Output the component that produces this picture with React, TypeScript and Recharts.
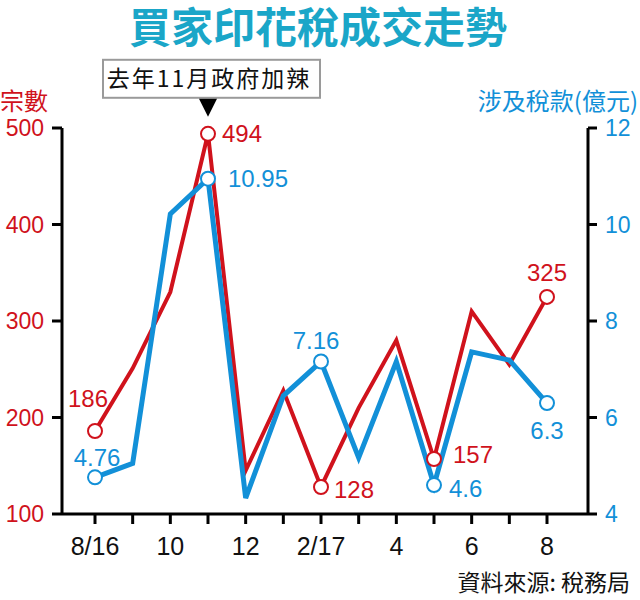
import React from 'react';
import { LineChart, Line, XAxis, YAxis, ReferenceDot, LabelList } from 'recharts';

const months = ['8/16', '9', '10', '11', '12', '1', '2/17', '3', '4', '5', '6', '7', '8'];
const deals = [186, 251, 330, 494, 145, 228, 128, 210, 280, 157, 310, 255, 325];
const taxes = [4.76, 5.05, 10.22, 10.95, 4.33, 6.45, 7.16, 5.17, 7.16, 4.6, 7.36, 7.19, 6.3];
const dealTicks = [100, 200, 300, 400, 500];
const taxTicks = [4, 6, 8, 10, 12];
const labelled = [0, 3, 6, 9, 12];

const RED = '#d0121c';
const BLUE = '#1290d8';
const TITLE = '#1aa6c8';
const CJK = '"Noto Sans CJK TC", "Noto Sans CJK SC", sans-serif';
const LATIN = '"Liberation Sans", Arial, sans-serif';

const data = months.map((m, i) => ({ month: m, deals: deals[i], taxes: taxes[i] }));

// where each value label sits relative to its point
const redPos: Record<number, [string, number, number]> = {
  0: ['middle', -7, -24],
  3: ['start', 14, 8],
  6: ['start', 13, 11],
  9: ['start', 19, 4],
  12: ['middle', 0, -16],
};
const bluePos: Record<number, [string, number, number]> = {
  0: ['middle', 2, -11],
  3: ['start', 20, 8],
  6: ['middle', -5, -13],
  9: ['start', 15, 12],
  12: ['middle', 0, 36],
};

const makeDot = (color: string) => (props: any) => {
  const { cx, cy, index } = props;
  if (!labelled.includes(index)) return <g key={`d${index}`} />;
  return <circle key={`d${index}`} cx={cx} cy={cy} r={7} fill="#fff" stroke={color} strokeWidth={2} />;
};

const makeLabel = (color: string, pos: Record<number, [string, number, number]>) => (props: any) => {
  const { x, y, value, index } = props;
  const p = pos[index];
  if (!p) return null;
  return (
    <text x={x + p[1]} y={y + p[2]} textAnchor={p[0] as any} fill={color}
      style={{ fontSize: 24, fontFamily: LATIN }}>
      {value}
    </text>
  );
};

const Callout = (props: any) => {
  const { cx, cy } = props;
  return (
    <g>
      <rect x={cx - 105} y={cy - 74} width={217} height={38} fill="#fff" stroke="#9a9a9a" strokeWidth={2} />
      <text x={cx + 1} y={cy - 47} textAnchor="middle" fill="#111"
        style={{ fontSize: 23, fontFamily: CJK, letterSpacing: 2 }}>
        去年11月政府加辣
      </text>
      <path d={`M${cx - 9},${cy - 35} L${cx + 9},${cy - 35} L${cx},${cy - 17} Z`} fill="#000" />
    </g>
  );
};

const txt = { position: 'absolute' as const, lineHeight: 1.2, whiteSpace: 'nowrap' as const };

export default function App() {
  return (
    <div style={{ position: 'absolute', left: 0, top: 0, width: 640, height: 600, background: '#fff', fontFamily: LATIN }}>
      <div style={{ ...txt, left: 0, width: 636, top: 0, textAlign: 'center', color: TITLE,
        fontFamily: CJK, fontWeight: 700, fontSize: 42 }}>
        買家印花稅成交走勢
      </div>
      <div style={{ ...txt, left: 0, top: 86, color: RED, fontFamily: CJK, fontSize: 24 }}>宗數</div>
      <div style={{ ...txt, right: 2, top: 86, color: BLUE, fontFamily: CJK, fontSize: 24 }}>涉及稅款(億元)</div>
      <div style={{ ...txt, right: 10, top: 568, color: '#111', fontFamily: CJK, fontSize: 23 }}>資料來源: 稅務局</div>
      <LineChart width={640} height={600} data={data} margin={{ top: 128, right: 0, left: 0, bottom: 0 }}>
        <XAxis dataKey="month" height={86} interval={0} padding={{ left: 33, right: 41 }}
          axisLine={{ stroke: '#000', strokeWidth: 3 }} tickLine={{ stroke: '#000', strokeWidth: 3 }}
          tickSize={10} tickMargin={13}
          tick={{ fill: '#111', fontSize: 25, fontFamily: LATIN }}
          tickFormatter={(v: string, i: number) => (i % 2 === 0 ? v : '')} />
        <YAxis yAxisId="left" width={62} domain={[100, 500]} ticks={dealTicks} interval={0}
          axisLine={{ stroke: '#000', strokeWidth: 3 }} tickLine={{ stroke: '#000', strokeWidth: 3 }}
          tickSize={10} tickMargin={8}
          tick={{ fill: RED, fontSize: 23, fontFamily: LATIN }} />
        <YAxis yAxisId="right" orientation="right" width={52} domain={[4, 12]} ticks={taxTicks} interval={0}
          axisLine={{ stroke: '#000', strokeWidth: 3 }} tickLine={{ stroke: '#000', strokeWidth: 3 }}
          tickSize={9} tickMargin={8}
          tick={{ fill: BLUE, fontSize: 23, fontFamily: LATIN }} />
        <Line yAxisId="left" type="linear" dataKey="deals" stroke={RED} strokeWidth={4}
          strokeLinejoin="miter" dot={makeDot(RED)} activeDot={false} isAnimationActive={false}>
          <LabelList dataKey="deals" content={makeLabel(RED, redPos)} />
        </Line>
        <Line yAxisId="right" type="linear" dataKey="taxes" stroke={BLUE} strokeWidth={5}
          strokeLinejoin="miter" dot={makeDot(BLUE)} activeDot={false} isAnimationActive={false}>
          <LabelList dataKey="taxes" content={makeLabel(BLUE, bluePos)} />
        </Line>
        <ReferenceDot yAxisId="left" x="11" y={494} r={0} shape={Callout} />
      </LineChart>
    </div>
  );
}
